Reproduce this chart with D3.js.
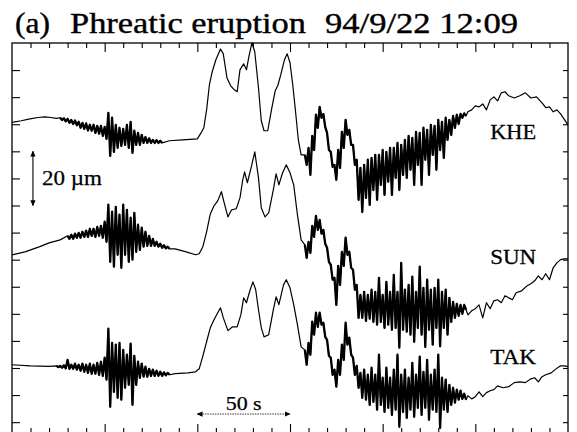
<!DOCTYPE html>
<html>
<head>
<meta charset="utf-8">
<style>
  body { margin: 0; background: #ffffff; }
  svg text { font-family: "Liberation Serif", "Times New Roman", Times, serif; fill: #000; }
</style>
<script src="https://d3js.org/d3.v7.min.js"></script>
</head>
<body>
<div id="chart"></div>
<script>

// time in s, displacement in micrometres (relative to each trace's start level)
var stations = ["KHE", "SUN", "TAK"];
var stationDepth = [29.3, 78.2, 118.8];   // trace baselines, µm below the top of the frame

var kheLine = [[0,0],[5,0.6],[9.7,1.3],[14,1.8],[17.8,2.0],[21,1.8],[24,1.5],
    [85,-6.8],[92,-6.5],[100,-6.1],[102,-3.9],[103.5,-2.0],[105,4.6],[106.5,13.8],[108,18.6],[110,23.1],
    [112.5,27.1],[114,25.3],[116,16.4],[118,13.5],[120,12.0],[121.5,11.3],[123,19.4],[125,21.6],[126.5,19.4],
    [128,24.9],[129.5,29.4],[131,26.0],[133,12.7],[134.5,0.6],[136,-3.1],[138,-3.1],[140,4.6],[142,11.6],
    [143.5,13.8],[145,17.5],[147,23.1],[148.5,25.3],[150,22.0],[151.5,13.8],[153,3.9],[154.5,-6.5],[156,-12.0],
    [246,3.9],[248,4.6],[250,6.1],[252,5.7],[254,6.8],[256,4.6],[258,8.3],[260,9.4],[262,7.9],[264,10.9],
    [266,11.3],[268,9.8],[271,9.0],[274,9.8],[277,10.9],[280,9.0],[283,9.4],[286,7.2],[288,5.4],[290,5.7],
    [292,3.9],[294,4.6],[296,3.1],[300,-0.9]];

// noisy parts: max / min every 2 s
var kheNoise = [
  {t0: 26,
   hi: [1.7,1.5,1.3,0.9,0.7,0.2,-0.2,-0.4,-0.9,-0.9,-1.3,-1.3,-1.7,3.5,1.7,-0.9,-2.0,-2.4,-0.9,0.2,-3.1,-3.9,-4.6,-5.4,-5.9,-6.5,-6.6,-6.8],
   lo: [0.9,0.4,-0.2,-0.6,-1.1,-2.0,-2.4,-3.0,-3.1,-3.9,-4.2,-5.0,-6.1,-12.4,-10.9,-9.4,-8.7,-8.3,-9.4,-11.3,-8.3,-8.3,-7.6,-7.6,-7.6,-7.6,-7.6,-7.6]},
  {t0: 158,
   hi: [-12.0,-9.4,-5.0,2.8,5.7,3.1,-3.9,-10.9,-15.7,-10.2,-3.5,0.9,-2.8,-8.3,-13.8,-16.8,-15.7,-13.8,-13.1,-12.0,-12.0,-10.2,-10.9,-9.4,-9.4,-7.6,-8.3,-6.5,-5.0,-5.7,-3.5,-3.9,-2.0,-2.8,-0.9,-1.3,0.9,0.2,1.7,0.9,2.4,2.8,3.1,3.3],
   lo: [-15.7,-19.4,-10.2,-2.0,1.7,-1.7,-10.2,-16.4,-21.2,-16.8,-9.4,-4.6,-8.3,-15.7,-28.6,-33.1,-27.9,-30.5,-25.0,-28.6,-23.1,-26.8,-21.9,-26.8,-20.5,-25.0,-19.4,-20.5,-17.5,-23.1,-15.7,-23.1,-13.8,-19.4,-12.0,-17.5,-10.2,-13.1,-6.5,-4.6,-2.0,-0.6,1.7,2.4]}
];

var sunLine = [[0,0],[7,1.1],[15,3.0],[20,4.4],[26,5.5],
    [88,2.2],[94,1.1],[99,0],[101,0.4],[103,3.0],[105,8.5],[107,15.1],[109,18.1],[111,19.9],[113,23.3],
    [114.5,19.2],[116.5,14.0],[118.5,16.6],[121,17.0],[123,21.0],[124.5,27.7],[125.5,30.6],[127,26.6],[129,32.1],
    [131,38.0],[133,28.4],[134.5,17.4],[136.5,14.0],[138.5,15.5],[141,24.0],[142.5,29.9],[144,25.8],[146,30.3],
    [148,33.2],[150,30.3],[152,25.8],[154,14.8],[156,5.5],
    [246,-22.2],[248,-20.7],[250,-19.9],[252,-18.5],[254,-23.3],[256,-17.7],[258,-19.9],[260,-17.0],[262,-16.6],
    [264,-17.7],[266,-15.1],[268,-15.9],[270,-16.6],[272,-14.0],[275,-13.3],[278,-11.4],[280,-10.7],[282,-9.6],
    [284,-7.8],[286,-9.2],[288,-7.0],[290,-9.2],[292,-4.8],[294,-3.0],[296,-1.8],[298,-1.5],[300,-1.5]];

var sunNoise = [
  {t0: 30,
   hi: [7.0,7.4,7.8,8.1,8.5,8.9,9.6,9.6,10.3,10.7,12.2,18.5,15.9,17.7,14.8,18.5,16.6,13.7,15.5,11.1,10.0,8.5,7.0,5.9,4.8,4.1,3.5,3.0],
   lo: [5.9,5.9,6.3,6.3,6.6,6.6,7.0,6.6,7.0,6.3,4.8,-2.6,-4.4,0,-4.8,0,-2.6,-1.8,1.1,1.8,3.0,3.3,3.3,3.3,3.0,2.6,2.4,2.2]},
  {t0: 158,
   hi: [3.7,4.8,10.7,14.4,12.9,9.2,2.6,-3.7,-8.5,-4.1,1.1,6.3,1.1,-5.5,-11.1,-14.8,-13.7,-14.8,-12.9,-13.7,-8.5,-14.8,-10.0,-13.7,-7.4,-13.7,-3.0,-12.9,-11.1,-8.1,-13.7,-4.4,-12.2,-9.2,-12.9,-12.2,-9.2,-13.7,-12.9,-15.9,-17.4,-18.1,-18.5,-18.5],
   lo: [-1.1,0.7,6.6,9.2,7.8,4.1,-2.6,-9.2,-18.5,-11.1,-4.1,0,-4.8,-12.9,-23.3,-23.3,-24.4,-23.6,-24.8,-25.8,-24.8,-27.0,-25.8,-27.7,-27.0,-34.3,-27.7,-28.4,-29.5,-32.1,-27.0,-29.5,-34.0,-27.7,-33.2,-27.0,-33.8,-27.0,-29.5,-24.8,-23.3,-22.5,-21.8,-20.3]}
];

var takLine = [[0,0],[10,-0.4],[20,-0.6],
    [88,-3.3],[95,-3.0],[99,-2.6],[101,-1.5],[103,3.3],[105,8.5],[107,13.7],[109,16.6],[111,19.2],[112.5,21.0],
    [114,17.4],[116.5,12.6],[119,14.0],[121.5,14.0],[123.5,18.5],[125,24.7],[126.5,22.9],[128.5,27.7],[130,30.6],
    [131.5,27.7],[133,20.3],[134.5,13.7],[136,10.3],[138.5,11.1],[141,20.3],[142.5,25.1],[144,22.2],[146.5,29.5],
    [148,31.4],[150,28.4],[152,22.2],[154,14.8],[156,6.6],
    [246,-11.4],[248,-12.6],[250,-11.8],[252,-10.0],[254,-11.8],[256,-10.3],[258,-9.6],[260,-9.2],[262,-7.8],
    [265,-8.5],[268,-8.1],[271,-6.6],[274,-6.3],[277,-6.6],[280,-5.2],[282,-4.8],[284,-6.3],[286,-4.4],[288,-3.7],
    [291,-3.0],[293,-1.8],[296,-0.4],[298,-0.4],[300,-0.7]];

var takNoise = [
  {t0: 24,
   hi: [-0.4,-0.4,-0.2,1.8,0,0.4,0,0.4,0,0.4,0,0.7,1.1,2.6,13.3,8.1,7.4,8.1,5.5,3.7,7.8,3.3,1.1,0.4,-0.7,-1.5,-1.8,-2.2,-2.6,-2.8,-3.0],
   lo: [-0.9,-1.1,-1.3,-1.5,-1.5,-1.8,-2.2,-2.6,-3.0,-3.3,-3.3,-3.7,-4.1,-5.5,-15.5,-10.0,-12.2,-12.9,-8.5,-7.4,-14.8,-7.4,-4.8,-4.4,-4.4,-4.1,-4.1,-4.1,-4.1,-3.9,-3.7]},
  {t0: 158,
   hi: [5.5,8.1,15.9,19.2,19.2,15.5,9.2,2.6,-1.8,1.8,7.4,15.5,10.0,2.6,-0.4,-3.0,-1.8,-3.7,-1.1,-3.7,3.7,-4.8,-1.1,-4.8,-1.8,3.7,-3.7,-1.8,-4.8,0.7,-3.7,3.0,-2.6,1.8,-3.7,-1.8,3.7,-4.8,-5.5,-7.4,-8.5,-9.2,-9.6,-10.7],
   lo: [0,3.7,11.1,14.0,14.8,10.3,3.3,-3.7,-8.1,-3.7,1.8,7.4,3.7,-3.7,-8.5,-12.2,-12.9,-14.8,-13.7,-16.6,-14.8,-17.4,-15.9,-18.5,-16.6,-22.9,-17.4,-19.6,-16.6,-19.2,-15.9,-18.5,-15.9,-20.3,-16.6,-17.4,-23.3,-16.6,-17.4,-14.8,-14.0,-12.9,-12.6,-12.9]}
];

var traces = [kheLine, sunLine, takLine];
var noises = [kheNoise, sunNoise, takNoise];

var xTicks = d3.range(0, 301, 10);
var yTicks = d3.range(0, 141, 10);

var W = 577, H = 432;

var x = d3.scaleLinear().domain([0, 300]).range([12, 568]);
var y = d3.scaleLinear().domain([0, 144]).range([43, 433]);

var svg = d3.select("#chart").append("svg")
    .attr("width", W)
    .attr("height", H);

var defs = svg.append("defs");
defs.append("marker")
    .attr("id", "arr")
    .attr("viewBox", "0 0 8 8")
    .attr("refX", 7).attr("refY", 4)
    .attr("markerWidth", 6).attr("markerHeight", 6)
    .attr("markerUnits", "userSpaceOnUse")
    .attr("orient", "auto-start-reverse")
    .append("path")
    .attr("d", "M0,0.5 L8,4 L0,7.5 z")
    .attr("fill", "#000");

// frame
svg.append("rect")
    .attr("x", x(0)).attr("y", y(0))
    .attr("width", x(300) - x(0))
    .attr("height", y(144) - y(0))
    .attr("fill", "none")
    .attr("stroke", "#000")
    .attr("stroke-width", 1.3);

function tickAxis(axis, values, size, tr) {
    var g = svg.append("g")
        .attr("transform", tr)
        .call(axis.tickValues(values).tickSize(size).tickSizeOuter(0).tickFormat(""));
    g.select(".domain").remove();
    g.selectAll("line").attr("stroke", "#000").attr("stroke-width", 1.1);
}

var minorX = xTicks.filter(d => d % 50 !== 0 && d > 0 && d < 300),
    majorX = xTicks.filter(d => d % 50 === 0 && d > 0 && d < 300);

tickAxis(d3.axisBottom(x), minorX, 5, "translate(0," + y(0) + ")");
tickAxis(d3.axisBottom(x), majorX, 9, "translate(0," + y(0) + ")");
tickAxis(d3.axisTop(x), minorX, 5, "translate(0," + y(144) + ")");
tickAxis(d3.axisTop(x), majorX, 9, "translate(0," + y(144) + ")");
tickAxis(d3.axisRight(y), yTicks.filter(d => d > 0), 8, "translate(" + x(0) + ",0)");
tickAxis(d3.axisLeft(y), yTicks.filter(d => d > 0), 5, "translate(" + x(300) + ",0)");

// traces
var line = d3.line()
    .x(d => x(d[0]))
    .y(d => d[1]);

traces.forEach(function(tr, k) {
    var base = stationDepth[k];
    var pts = tr.map(d => [d[0], d[1]]);
    noises[k].forEach(function(seg) {
        var zig = [];
        seg.hi.forEach(function(h, i) {
            zig.push([seg.t0 + 2 * i, h]);
            zig.push([seg.t0 + 2 * i + 1, seg.lo[i]]);
        });
        pts = pts.concat(zig);
        // the noisy stretch is inked heavier, as on the record
        svg.append("path")
            .datum(zig.map(d => [d[0], y(base - d[1])]))
            .attr("fill", "none")
            .attr("stroke", "#000")
            .attr("stroke-width", 2.3)
            .attr("stroke-linejoin", "round")
            .attr("d", line);
    });
    pts.sort((a, b) => a[0] - b[0]);
    svg.append("path")
        .datum(pts.map(d => [d[0], y(base - d[1])]))
        .attr("fill", "none")
        .attr("stroke", "#000")
        .attr("stroke-width", 1.2)
        .attr("stroke-linejoin", "round")
        .attr("d", line);
});

// station labels
svg.selectAll(".stn")
    .data(stations)
    .enter()
    .append("text")
    .attr("class", "stn")
    .attr("x", x(258))
    .attr("y", (d, i) => y(stationDepth[i]) + [16.5, 9, -0.5][i])
    .attr("font-size", 21)
    .attr("stroke", "#000")
    .attr("stroke-width", 0.3)
    .attr("textLength", 46)
    .attr("lengthAdjust", "spacingAndGlyphs")
    .text(d => d);

// 20 µm scale bar
svg.append("line")
    .attr("x1", x(11.3)).attr("x2", x(11.3))
    .attr("y1", y(40)).attr("y2", y(60))
    .attr("stroke", "#000").attr("stroke-width", 1.1)
    .attr("marker-start", "url(#arr)")
    .attr("marker-end", "url(#arr)");
svg.append("text")
    .attr("x", 42).attr("y", 185)
    .attr("font-size", 20)
    .attr("stroke", "#000")
    .attr("stroke-width", 0.25)
    .attr("textLength", 60)
    .attr("lengthAdjust", "spacingAndGlyphs")
    .text("20 \u00b5m");

// 50 s scale bar
svg.append("line")
    .attr("x1", x(100)).attr("x2", x(150))
    .attr("y1", y(137)).attr("y2", y(137))
    .attr("stroke", "#000").attr("stroke-width", 0.8)
    .attr("stroke-dasharray", "1.5,1")
    .attr("marker-start", "url(#arr)")
    .attr("marker-end", "url(#arr)");
svg.append("text")
    .attr("x", x(125)).attr("y", 410)
    .attr("text-anchor", "middle")
    .attr("font-size", 19)
    .attr("stroke", "#000")
    .attr("stroke-width", 0.25)
    .attr("textLength", 36)
    .attr("lengthAdjust", "spacingAndGlyphs")
    .text("50 s");

// title
var title = [["(a)", 15, 35], ["Phreatic eruption", 70, 236], ["94/9/22 12:09", 325, 193]];
svg.selectAll(".ttl")
    .data(title)
    .enter()
    .append("text")
    .attr("class", "ttl")
    .attr("x", d => d[1])
    .attr("y", 33)
    .attr("font-size", 30)
    .attr("stroke", "#000")
    .attr("stroke-width", 0.4)
    .attr("textLength", d => d[2])
    .attr("lengthAdjust", "spacingAndGlyphs")
    .text(d => d[0]);

</script>
</body>
</html>
